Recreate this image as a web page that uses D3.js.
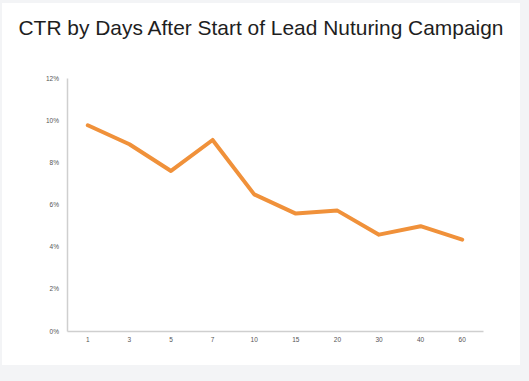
<!DOCTYPE html>
<html><head><meta charset="utf-8">
<script src="https://cdn.jsdelivr.net/npm/d3@7"></script>
<style>html,body{margin:0;padding:0;background:#f3f4f6;}svg{display:block;}</style>
</head><body>
<svg id="c" width="529" height="381"></svg>
<script>
const title = "CTR by Days After Start of Lead Nuturing Campaign";
const days = ["1","3","5","7","10","15","20","30","40","60"];
const ctr = [9.76, 8.86, 7.59, 9.06, 6.48, 5.57, 5.71, 4.57, 4.97, 4.33];
const yTicks = [0, 2, 4, 6, 8, 10, 12];

(function(){
const svg = d3.select("#c");
svg.append("rect").attr("x",0).attr("y",0).attr("width",529).attr("height",381).attr("fill","#f3f4f6");
svg.append("rect").attr("x",2).attr("y",3).attr("width",518).attr("height",362).attr("fill","#ffffff");

const mLeft = 67, mRight = 483, mTop = 78, mBottom = 331;
const x = d3.scaleBand().domain(days).range([mLeft, mRight]);
const y = d3.scaleLinear().domain([0, 12]).range([mBottom, mTop]);

svg.append("text").attr("x", 261).attr("y", 35).attr("text-anchor","middle")
  .attr("font-family","Liberation Sans, Arial, sans-serif").attr("font-size", 21)
  .attr("fill","#1e1e1e").attr("textLength", 485).attr("lengthAdjust","spacingAndGlyphs").text(title);

const yAxis = svg.append("g").attr("transform",`translate(${mLeft},0)`)
  .call(d3.axisLeft(y).tickValues(yTicks).tickSize(0).tickPadding(8).tickFormat(d => d + "%"));
yAxis.select(".domain").attr("stroke","#cfcfcf").attr("stroke-width",1.5);
yAxis.selectAll("text").attr("font-family","Liberation Sans, Arial, sans-serif").attr("font-size",6.5).attr("fill","#555");

const xAxis = svg.append("g").attr("transform",`translate(0,${mBottom})`)
  .call(d3.axisBottom(x).tickSize(0).tickPadding(6));
xAxis.select(".domain").attr("stroke","#cfcfcf").attr("stroke-width",1.5);
xAxis.selectAll("text").attr("font-family","Liberation Sans, Arial, sans-serif").attr("font-size",6.5).attr("fill","#555");

const line = d3.line().x((d,i) => x(days[i]) + x.bandwidth()/2).y(d => y(d));
svg.append("path").datum(ctr).attr("d", line).attr("fill","none")
  .attr("stroke","#f0913a").attr("stroke-width",4).attr("stroke-linejoin","round").attr("stroke-linecap","round");
})();
</script>
</body></html>
